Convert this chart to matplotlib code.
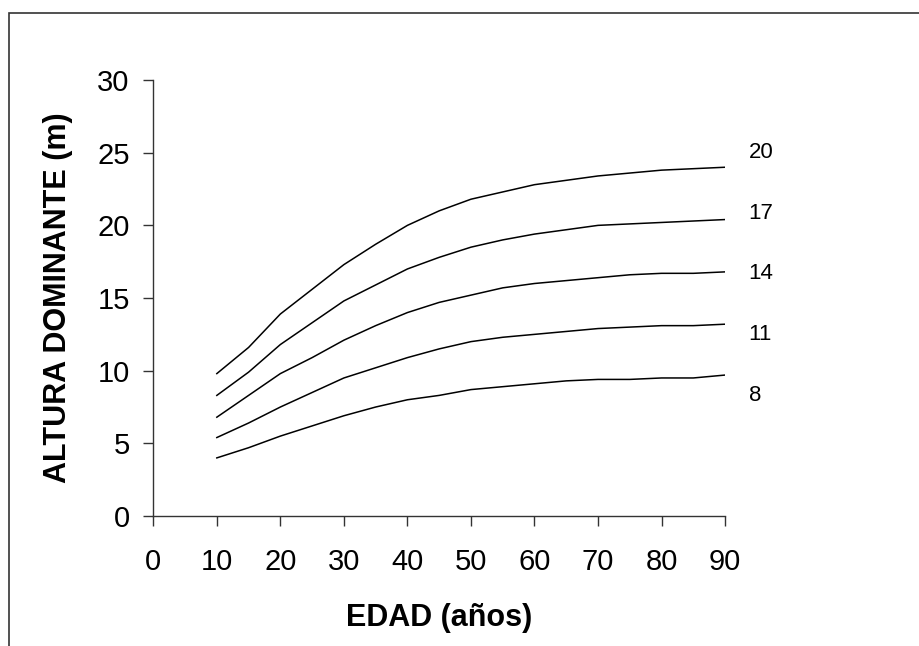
import matplotlib.pyplot as plt
from matplotlib.patches import Rectangle

plt.rcParams['font.family'] = ['Liberation Sans', 'DejaVu Sans']

# edad (años)
edad = [10, 15, 20, 25, 30, 35, 40, 45, 50, 55, 60, 65, 70, 75, 80, 85, 90]

# altura dominante (m) por índice de sitio
indices = [20, 17, 14, 11, 8]
alturas = {
    20: [9.8, 11.6, 13.9, 15.6, 17.3, 18.7, 20.0, 21.0, 21.8, 22.3, 22.8, 23.1, 23.4, 23.6, 23.8, 23.9, 24.0],
    17: [8.3, 9.9, 11.8, 13.3, 14.8, 15.9, 17.0, 17.8, 18.5, 19.0, 19.4, 19.7, 20.0, 20.1, 20.2, 20.3, 20.4],
    14: [6.8, 8.3, 9.8, 10.9, 12.1, 13.1, 14.0, 14.7, 15.2, 15.7, 16.0, 16.2, 16.4, 16.6, 16.7, 16.7, 16.8],
    11: [5.4, 6.4, 7.5, 8.5, 9.5, 10.2, 10.9, 11.5, 12.0, 12.3, 12.5, 12.7, 12.9, 13.0, 13.1, 13.1, 13.2],
    8:  [4.0, 4.7, 5.5, 6.2, 6.9, 7.5, 8.0, 8.3, 8.7, 8.9, 9.1, 9.3, 9.4, 9.4, 9.5, 9.5, 9.7],
}
label_y = [25, 20.8, 16.7, 12.5, 8.3]

fig = plt.figure(figsize=(9.19, 6.46), dpi=100)
ax = fig.add_axes([0.1668, 0.2012, 0.6222, 0.6749])

for k in indices:
    ax.plot(edad, alturas[k], color='black', lw=1.1, solid_joinstyle='round')

for k, yl in zip(indices, label_y):
    ax.text(93.7, yl, str(k), fontsize=16, ha='left', va='center')

ax.set_xlim(0, 90)
ax.set_ylim(0, 30)
ax.set_xticks(range(0, 91, 10))
ax.set_yticks(range(0, 31, 5))

for s in ['top', 'right']:
    ax.spines[s].set_visible(False)
for s in ['left', 'bottom']:
    ax.spines[s].set_linewidth(1)
    ax.spines[s].set_color('#333333')

ax.tick_params(axis='x', direction='out', length=7, width=1, color='#333333',
               labelsize=21, pad=16)
ax.tick_params(axis='y', direction='out', length=7, width=1, color='#333333',
               labelsize=21, pad=10)

ax.set_xlabel('EDAD (años)', fontsize=22, fontweight='bold')
ax.set_ylabel('ALTURA DOMINANTE (m)', fontsize=22, fontweight='bold')
ax.xaxis.label.set_va('center')
ax.yaxis.label.set_va('center')
ax.xaxis.set_label_coords(0.5, -0.235)
ax.yaxis.set_label_coords(-0.1667, 0.5)

# marco exterior del gráfico
fig.patches.append(Rectangle((0.0093, -0.1), 1.2, 1.08, transform=fig.transFigure,
                             fill=False, edgecolor='#333333', lw=1.2, clip_on=False))

fig.savefig('out.png', dpi=100)
